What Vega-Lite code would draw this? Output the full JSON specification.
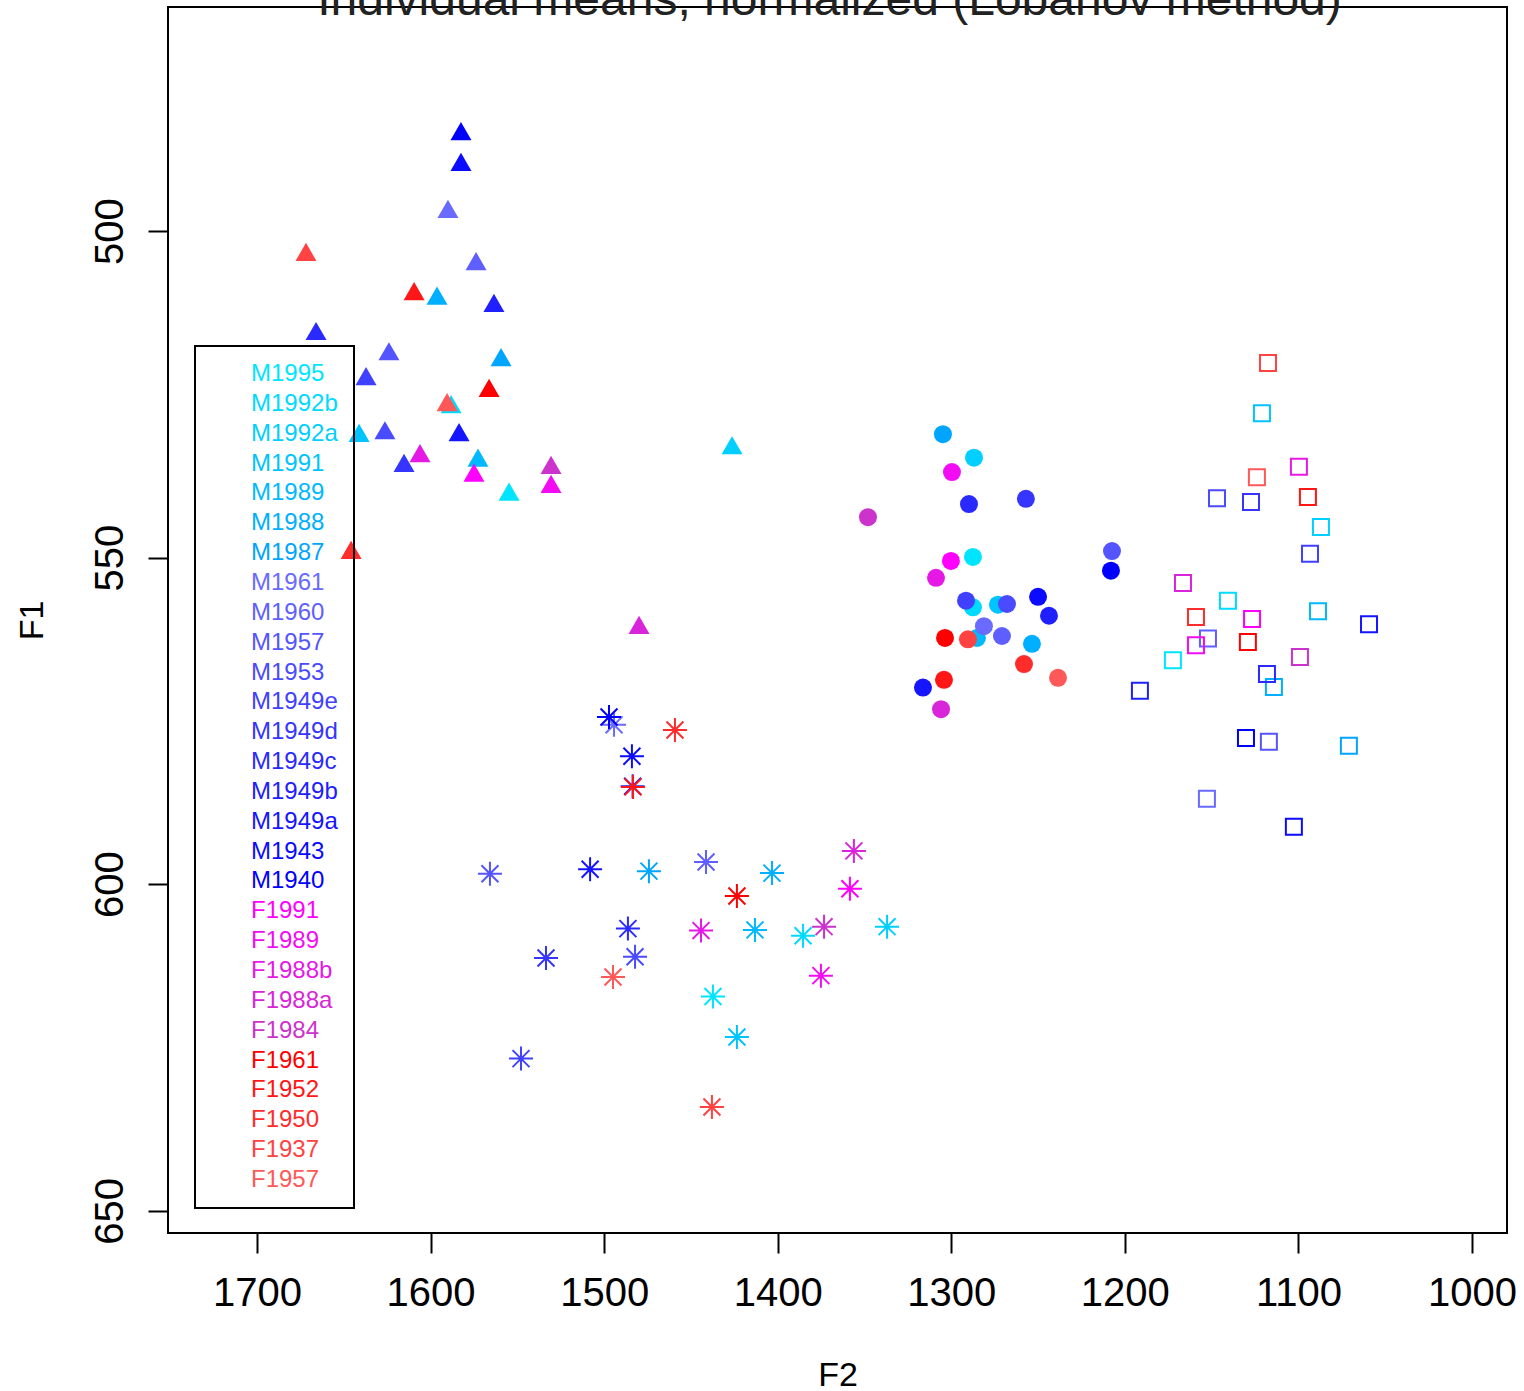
{
  "$schema": "https://vega.github.io/schema/vega-lite/v6.json",
  "width": 1339,
  "height": 1226,
  "autosize": {"type": "none"},
  "padding": {"left": 168, "top": 7, "right": 17, "bottom": 158},
  "background": "white",
  "title": {
    "text": "Individual means, normalized (Lobanov method)",
    "font": "Liberation Sans",
    "fontSize": 48,
    "fontWeight": "normal",
    "color": "#222222",
    "baseline": "top",
    "anchor": "middle",
    "offset": -18,
    "dx": -8
  },
  "config": {
    "font": "Liberation Sans",
    "view": {"stroke": "black", "strokeWidth": 2},
    "axis": {
      "grid": false,
      "domain": false,
      "tickColor": "black",
      "tickWidth": 2,
      "tickSize": 20,
      "labelFont": "Liberation Sans",
      "labelFontSize": 40,
      "labelColor": "black",
      "titleFont": "Liberation Sans",
      "titleFontSize": 34,
      "titleFontWeight": "normal",
      "titleColor": "black",
      "labelOverlap": false,
      "labelFlush": false,
      "labelBound": false
    }
  },
  "data": {
    "values": [
      {"sp": "M1995", "v": "i", "F2": 1554.8, "F1": 539.9},
      {"sp": "M1995", "v": "e", "F2": 1287.5, "F1": 549.9},
      {"sp": "M1995", "v": "o", "F2": 1172.3, "F1": 565.7},
      {"sp": "M1995", "v": "a", "F2": 1437.3, "F1": 617.2},
      {"sp": "M1992b", "v": "i", "F2": 1588.2, "F1": 526.5},
      {"sp": "M1992b", "v": "e", "F2": 1287.5, "F1": 557.6},
      {"sp": "M1992b", "v": "o", "F2": 1140.6, "F1": 556.6},
      {"sp": "M1992b", "v": "a", "F2": 1385.4, "F1": 607.9},
      {"sp": "M1992a", "v": "i", "F2": 1426.3, "F1": 532.8},
      {"sp": "M1992a", "v": "e", "F2": 1286.9, "F1": 534.7},
      {"sp": "M1992a", "v": "o", "F2": 1087.0, "F1": 545.3},
      {"sp": "M1992a", "v": "a", "F2": 1337.0, "F1": 606.5},
      {"sp": "M1991", "v": "i", "F2": 1641.2, "F1": 530.9},
      {"sp": "M1991", "v": "e", "F2": 1273.1, "F1": 557.2},
      {"sp": "M1991", "v": "o", "F2": 1121.0, "F1": 527.9},
      {"sp": "M1991", "v": "a", "F2": 1423.5, "F1": 623.4},
      {"sp": "M1989", "v": "i", "F2": 1572.7, "F1": 534.7},
      {"sp": "M1989", "v": "e", "F2": 1285.2, "F1": 562.3},
      {"sp": "M1989", "v": "o", "F2": 1088.7, "F1": 558.2},
      {"sp": "M1989", "v": "a", "F2": 1413.1, "F1": 607.0},
      {"sp": "M1988", "v": "i", "F2": 1596.3, "F1": 509.9},
      {"sp": "M1988", "v": "e", "F2": 1253.5, "F1": 563.2},
      {"sp": "M1988", "v": "o", "F2": 1114.1, "F1": 569.8},
      {"sp": "M1988", "v": "a", "F2": 1403.3, "F1": 598.3},
      {"sp": "M1987", "v": "i", "F2": 1559.4, "F1": 519.3},
      {"sp": "M1987", "v": "e", "F2": 1304.8, "F1": 531.1},
      {"sp": "M1987", "v": "o", "F2": 1070.9, "F1": 578.8},
      {"sp": "M1987", "v": "a", "F2": 1474.2, "F1": 598.0},
      {"sp": "M1961", "v": "i", "F2": 1590.0, "F1": 496.6},
      {"sp": "M1961", "v": "e", "F2": 1281.2, "F1": 560.5},
      {"sp": "M1961", "v": "o", "F2": 1152.7, "F1": 586.9},
      {"sp": "M1961", "v": "a", "F2": 1494.3, "F1": 575.6},
      {"sp": "M1960", "v": "i", "F2": 1573.8, "F1": 504.6},
      {"sp": "M1960", "v": "e", "F2": 1270.8, "F1": 562.0},
      {"sp": "M1960", "v": "o", "F2": 1152.1, "F1": 562.4},
      {"sp": "M1960", "v": "a", "F2": 1441.3, "F1": 596.6},
      {"sp": "M1957", "v": "i", "F2": 1624.0, "F1": 518.4},
      {"sp": "M1957", "v": "e", "F2": 1207.4, "F1": 549.0},
      {"sp": "M1957", "v": "o", "F2": 1117.0, "F1": 578.2},
      {"sp": "M1957", "v": "a", "F2": 1565.8, "F1": 598.4},
      {"sp": "M1953", "v": "i", "F2": 1626.3, "F1": 530.5},
      {"sp": "M1953", "v": "e", "F2": 1267.9, "F1": 557.1},
      {"sp": "M1953", "v": "o", "F2": 1146.9, "F1": 540.9},
      {"sp": "M1953", "v": "a", "F2": 1482.2, "F1": 611.1},
      {"sp": "M1949e", "v": "i", "F2": 1637.2, "F1": 522.2},
      {"sp": "M1949e", "v": "e", "F2": 1291.5, "F1": 556.6},
      {"sp": "M1949e", "v": "o", "F2": 1093.3, "F1": 549.4},
      {"sp": "M1949e", "v": "a", "F2": 1547.9, "F1": 626.7},
      {"sp": "M1949d", "v": "i", "F2": 1615.3, "F1": 535.5},
      {"sp": "M1949d", "v": "e", "F2": 1257.0, "F1": 541.0},
      {"sp": "M1949d", "v": "o", "F2": 1127.3, "F1": 541.5},
      {"sp": "M1949d", "v": "a", "F2": 1533.5, "F1": 611.3},
      {"sp": "M1949c", "v": "i", "F2": 1666.0, "F1": 515.3},
      {"sp": "M1949c", "v": "e", "F2": 1289.8, "F1": 541.8},
      {"sp": "M1949c", "v": "o", "F2": 1118.1, "F1": 567.8},
      {"sp": "M1949c", "v": "a", "F2": 1486.3, "F1": 606.8},
      {"sp": "M1949b", "v": "i", "F2": 1563.5, "F1": 511.0},
      {"sp": "M1949b", "v": "e", "F2": 1243.7, "F1": 558.9},
      {"sp": "M1949b", "v": "o", "F2": 1191.3, "F1": 570.4},
      {"sp": "M1949b", "v": "a", "F2": 1483.6, "F1": 585.0},
      {"sp": "M1949a", "v": "i", "F2": 1583.6, "F1": 530.8},
      {"sp": "M1949a", "v": "e", "F2": 1316.3, "F1": 569.9},
      {"sp": "M1949a", "v": "o", "F2": 1059.3, "F1": 560.2},
      {"sp": "M1949a", "v": "a", "F2": 1508.1, "F1": 597.7},
      {"sp": "M1943", "v": "i", "F2": 1582.5, "F1": 489.4},
      {"sp": "M1943", "v": "e", "F2": 1250.0, "F1": 556.0},
      {"sp": "M1943", "v": "o", "F2": 1102.6, "F1": 591.2},
      {"sp": "M1943", "v": "a", "F2": 1484.0, "F1": 580.4},
      {"sp": "M1940", "v": "i", "F2": 1582.5, "F1": 484.7},
      {"sp": "M1940", "v": "e", "F2": 1208.0, "F1": 552.0},
      {"sp": "M1940", "v": "o", "F2": 1130.2, "F1": 577.6},
      {"sp": "M1940", "v": "a", "F2": 1497.2, "F1": 574.4},
      {"sp": "F1991", "v": "i", "F2": 1575.0, "F1": 537.0},
      {"sp": "F1991", "v": "e", "F2": 1300.2, "F1": 550.5},
      {"sp": "F1991", "v": "o", "F2": 1126.7, "F1": 559.4},
      {"sp": "F1991", "v": "a", "F2": 1358.4, "F1": 600.7},
      {"sp": "F1989", "v": "i", "F2": 1530.6, "F1": 538.7},
      {"sp": "F1989", "v": "e", "F2": 1299.6, "F1": 536.9},
      {"sp": "F1989", "v": "o", "F2": 1159.0, "F1": 563.4},
      {"sp": "F1989", "v": "a", "F2": 1375.1, "F1": 614.0},
      {"sp": "F1988b", "v": "i", "F2": 1606.1, "F1": 534.0},
      {"sp": "F1988b", "v": "e", "F2": 1308.8, "F1": 553.1},
      {"sp": "F1988b", "v": "o", "F2": 1099.7, "F1": 536.1},
      {"sp": "F1988b", "v": "a", "F2": 1444.2, "F1": 607.1},
      {"sp": "F1988a", "v": "i", "F2": 1479.9, "F1": 560.3},
      {"sp": "F1988a", "v": "e", "F2": 1305.9, "F1": 573.2},
      {"sp": "F1988a", "v": "o", "F2": 1166.5, "F1": 553.9},
      {"sp": "F1988a", "v": "a", "F2": 1356.1, "F1": 594.9},
      {"sp": "F1984", "v": "i", "F2": 1530.6, "F1": 535.8},
      {"sp": "F1984", "v": "e", "F2": 1348.0, "F1": 543.8},
      {"sp": "F1984", "v": "o", "F2": 1099.1, "F1": 565.2},
      {"sp": "F1984", "v": "a", "F2": 1373.3, "F1": 606.5},
      {"sp": "F1961", "v": "i", "F2": 1566.3, "F1": 524.0},
      {"sp": "F1961", "v": "e", "F2": 1303.6, "F1": 562.3},
      {"sp": "F1961", "v": "o", "F2": 1129.1, "F1": 562.9},
      {"sp": "F1961", "v": "a", "F2": 1423.5, "F1": 601.8},
      {"sp": "F1952", "v": "i", "F2": 1609.5, "F1": 509.2},
      {"sp": "F1952", "v": "e", "F2": 1304.2, "F1": 568.7},
      {"sp": "F1952", "v": "o", "F2": 1094.5, "F1": 540.7},
      {"sp": "F1952", "v": "a", "F2": 1483.4, "F1": 585.1},
      {"sp": "F1950", "v": "i", "F2": 1645.8, "F1": 548.8},
      {"sp": "F1950", "v": "e", "F2": 1258.1, "F1": 566.3},
      {"sp": "F1950", "v": "o", "F2": 1159.0, "F1": 559.1},
      {"sp": "F1950", "v": "a", "F2": 1459.2, "F1": 576.4},
      {"sp": "F1937", "v": "i", "F2": 1671.8, "F1": 503.2},
      {"sp": "F1937", "v": "e", "F2": 1290.4, "F1": 562.5},
      {"sp": "F1937", "v": "o", "F2": 1117.5, "F1": 520.2},
      {"sp": "F1937", "v": "a", "F2": 1437.9, "F1": 634.1},
      {"sp": "F1957", "v": "i", "F2": 1590.5, "F1": 526.2},
      {"sp": "F1957", "v": "e", "F2": 1238.5, "F1": 568.4},
      {"sp": "F1957", "v": "o", "F2": 1123.9, "F1": 537.7},
      {"sp": "F1957", "v": "a", "F2": 1494.9, "F1": 614.2}
    ]
  },
  "encoding": {
    "x": {
      "field": "F2",
      "type": "quantitative",
      "scale": {"domain": [979.8, 1751.3], "reverse": true, "nice": false, "zero": false},
      "axis": {
        "values": [1000, 1100, 1200, 1300, 1400, 1500, 1600, 1700],
        "format": "d",
        "title": "F2",
        "labelBaseline": "alphabetic",
        "labelPadding": 52,
        "titleY": 152,
        "titleBaseline": "alphabetic"
      }
    },
    "y": {
      "field": "F1",
      "type": "quantitative",
      "scale": {"domain": [465.7, 653.4], "reverse": true, "nice": false, "zero": false},
      "axis": {
        "values": [500, 550, 600, 650],
        "format": "d",
        "title": "F1",
        "labelAngle": -90,
        "labelAlign": "center",
        "labelBaseline": "alphabetic",
        "labelPadding": 26,
        "titleAngle": -90,
        "titleBaseline": "alphabetic",
        "titleX": -126
      }
    },
    "color": {
      "field": "sp",
      "type": "nominal",
      "scale": {
        "domain": ["M1995", "M1992b", "M1992a", "M1991", "M1989", "M1988", "M1987", "M1961", "M1960", "M1957", "M1953", "M1949e", "M1949d", "M1949c", "M1949b", "M1949a", "M1943", "M1940", "F1991", "F1989", "F1988b", "F1988a", "F1984", "F1961", "F1952", "F1950", "F1937", "F1957"],
        "range": ["#00E5FF", "#00DAFF", "#00CFFF", "#00C4FF", "#00B9FF", "#00AFFF", "#00A5FF", "#6A6AFF", "#5F5FFF", "#5555FF", "#4A4AFF", "#4040FF", "#3535FF", "#2A2AFF", "#2020FF", "#1515FF", "#0B0BFF", "#0000FF", "#FF00FF", "#F30CF3", "#E618E6", "#D925D9", "#CC33CC", "#FF0000", "#FF1616", "#FF2C2C", "#FF4242", "#FF5858"]
      },
      "legend": {
        "title": null,
        "orient": "none",
        "legendX": 27,
        "legendY": 339,
        "padding": 16,
        "strokeColor": "black",
        "symbolSize": 0,
        "symbolOpacity": 0,
        "symbolStrokeWidth": 0,
        "labelFont": "Liberation Sans",
        "labelFontSize": 24,
        "labelOffset": 16,
        "labelLimit": 300,
        "rowPadding": 5.85,
        "encode": {
          "labels": {"update": {"fill": {"scale": "color", "field": "value"}}},
          "legend": {"update": {"strokeWidth": {"value": 2}}}
        }
      }
    }
  },
  "layer": [
    {
      "transform": [{"filter": "datum.v === 'o'"}],
      "mark": {"type": "point", "shape": "square", "filled": false, "size": 256, "strokeWidth": 2, "opacity": 1}
    },
    {
      "transform": [{"filter": "datum.v === 'a'"}],
      "mark": {"type": "point", "shape": "M-1,0L1,0M0,-1L0,1M-0.7071,-0.7071L0.7071,0.7071M-0.7071,0.7071L0.7071,-0.7071", "filled": false, "size": 576, "strokeWidth": 2, "opacity": 1}
    },
    {
      "transform": [{"filter": "datum.v === 'e'"}],
      "mark": {"type": "point", "shape": "circle", "filled": true, "size": 324, "opacity": 1}
    },
    {
      "transform": [{"filter": "datum.v === 'i'"}],
      "mark": {"type": "point", "shape": "triangle-up", "filled": true, "size": 441, "opacity": 1}
    }
  ]
}
